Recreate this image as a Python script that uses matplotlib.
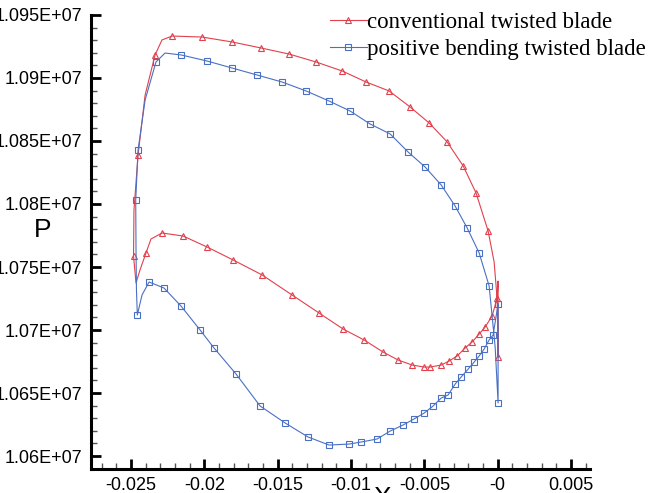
import numpy as np
import matplotlib
matplotlib.use('Agg')
import matplotlib.pyplot as plt
from matplotlib.ticker import MultipleLocator, FuncFormatter

# conventional twisted blade: trailing edge -> upper side -> leading edge -> lower side
red_x = [0.00003, -0.00003, -0.00024, -0.00065, -0.00147, -0.00235, -0.00344, -0.00467,
         -0.00597, -0.00740, -0.00897, -0.01061, -0.01238, -0.01422, -0.01613, -0.01811,
         -0.02016, -0.02220, -0.02289, -0.02336, -0.02404, -0.02452, -0.02480, -0.02483,
         -0.02466, -0.02439, -0.02398, -0.02364, -0.02289, -0.02145, -0.01982, -0.01804,
         -0.01606, -0.01402, -0.01218, -0.01054, -0.00911, -0.00781, -0.00679, -0.00583,
         -0.00501, -0.00460, -0.00385, -0.00331, -0.00276, -0.00222, -0.00174, -0.00126,
         -0.00085, -0.00038, -0.00003, 0.00003, 0.00003]
red_p = [10678600, 10723800, 10754000, 10778600, 10808700, 10830200, 10849200, 10864300,
         10877000, 10889700, 10896800, 10905600, 10912700, 10919000, 10923800, 10928600,
         10932500, 10933300, 10930200, 10918300, 10886500, 10838900, 10795200, 10758700,
         10737300, 10747600, 10761100, 10772200, 10777000, 10774600, 10765900, 10755600,
         10743700, 10727800, 10713500, 10700800, 10692100, 10682500, 10676200, 10672200,
         10670600, 10670600, 10672200, 10675400, 10679400, 10685700, 10690500, 10696800,
         10702400, 10711100, 10725400, 10738900, 10678600]
red_marks = [0, 3, 4, 5, 6, 7, 8, 9, 10, 11, 12, 13, 14, 15, 16, 17, 19, 21, 23, 26] + \
            list(range(28, 51))

# positive bending twisted blade
blue_x = [0.00003, 0.00003, -0.00017, -0.00058, -0.00126, -0.00208, -0.00290, -0.00385,
          -0.00495, -0.00611, -0.00733, -0.00870, -0.01006, -0.01149, -0.01306, -0.01470,
          -0.01641, -0.01811, -0.01982, -0.02159, -0.02268, -0.02330, -0.02404, -0.02452,
          -0.02468, -0.02466, -0.02463, -0.02457, -0.02425, -0.02377, -0.02275, -0.02159,
          -0.02029, -0.01934, -0.01784, -0.01620, -0.01449, -0.01293, -0.01149, -0.01013,
          -0.00931, -0.00822, -0.00733, -0.00645, -0.00570, -0.00501, -0.00440, -0.00385,
          -0.00338, -0.00290, -0.00249, -0.00201, -0.00160, -0.00126, -0.00092, -0.00058,
          -0.00031, 0.00003]
blue_p = [10720600, 10642100, 10686500, 10734900, 10761100, 10781000, 10798400, 10815100,
          10829400, 10841300, 10855600, 10863500, 10873800, 10881700, 10889700, 10896800,
          10902400, 10907900, 10913500, 10918300, 10919800, 10912700, 10882500, 10842900,
          10803200, 10763500, 10731700, 10711900, 10727800, 10738100, 10733300, 10719000,
          10700000, 10685700, 10665100, 10639700, 10626200, 10615100, 10608700, 10609500,
          10611100, 10613500, 10619800, 10624600, 10629400, 10634100, 10639700, 10646000,
          10648400, 10657100, 10662700, 10669000, 10674600, 10679400, 10684900, 10692100,
          10696000, 10720600]
blue_marks = [0, 1] + list(range(3, 20)) + [21, 23, 24, 27] + list(range(29, 57))

plt.rcParams['axes.unicode_minus'] = False
plt.rcParams['font.family'] = ['Liberation Sans', 'DejaVu Sans']

red = '#e2404c'
blue = '#4a70c4'

fig = plt.figure(figsize=(6.53, 4.93), dpi=100)
ax = fig.add_axes([0.1389, 0.0487, 0.7649, 0.9209])

ax.plot(red_x, red_p, color=red, lw=0.8, marker='^', markevery=red_marks, ms=5,
        mfc='none', mec=red, mew=0.8, label='conventional twisted blade')
ax.plot(blue_x, blue_p, color=blue, lw=0.8, marker='s', markevery=blue_marks, ms=4.5,
        mfc='none', mec=blue, mew=0.8, label='positive bending twisted blade')

ax.set_xlim(-0.02775, 0.00631)
ax.set_ylim(10589700, 10950000)

for s in ['top', 'right']:
    ax.spines[s].set_visible(False)
for s in ['left', 'bottom']:
    ax.spines[s].set_linewidth(2.2)

ax.xaxis.set_major_locator(MultipleLocator(0.005))
ax.xaxis.set_minor_locator(MultipleLocator(0.001))
ax.yaxis.set_major_locator(MultipleLocator(50000))
ax.yaxis.set_minor_locator(MultipleLocator(10000))
ax.xaxis.set_major_formatter(FuncFormatter(lambda v, pos: '%g' % round(v, 4)))
ax.yaxis.set_major_formatter(FuncFormatter(lambda v, pos: '%.4gE+07' % (v / 1e7)))

ax.tick_params(which='major', direction='in', length=7.5, width=2.0, labelsize=13, pad=6)
ax.tick_params(which='minor', direction='in', length=4.5, width=1.0, color='#555555')

ax.set_ylabel('P', fontsize=19, rotation=0, va='center')
ax.yaxis.set_label_coords(-0.097, 0.526)
ax.set_xlabel('X', fontsize=19, va='top')
ax.xaxis.set_label_coords(0.583, -0.037)

ax.legend(loc='upper left', bbox_to_anchor=(0.5054, 0.9757), bbox_transform=fig.transFigure,
          frameon=False, prop={'family': 'Liberation Serif', 'size': 16.5}, handlelength=1.6,
          handletextpad=0.0, labelspacing=0.24, borderaxespad=0, borderpad=0)

fig.savefig('out.png', dpi=100)
